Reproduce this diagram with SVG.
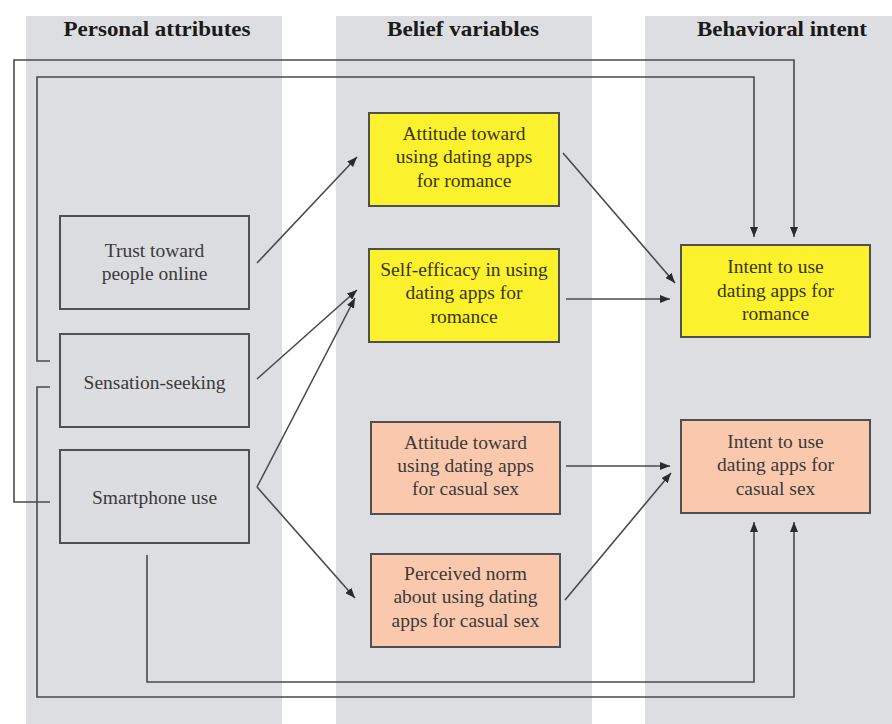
<svg xmlns="http://www.w3.org/2000/svg" width="892" height="724" viewBox="0 0 892 724">
<style>
.col{fill:#dddee1}
.hdr{font-family:"Liberation Serif","Times New Roman",serif;font-weight:bold;font-size:22px;fill:#1a1a1a;text-anchor:middle}
.box{stroke:#505050;stroke-width:2}
.g{fill:#dcdde0}
.y{fill:#fbf12c}
.s{fill:#fac9ad}
.t{font-family:"Liberation Serif","Times New Roman",serif;font-size:19.5px;text-anchor:middle;fill:#3a3a3a}
.ty{fill:#3a360c}
.c{fill:none;stroke:#4a4a4a;stroke-width:1.6}
.a{marker-end:url(#ah)}
</style>
<defs>
<marker id="ah" markerUnits="userSpaceOnUse" markerWidth="10" markerHeight="8" refX="10" refY="4" orient="auto">
<path d="M0,0 L10,4 L0,8 z" fill="#2a2a2a"/>
</marker>
</defs>
<rect width="892" height="724" fill="#ffffff"/>
<g id="columns">
<rect class="col" x="26" y="16" width="256" height="708"/>
<rect class="col" x="336" y="16" width="256" height="708"/>
<rect class="col" x="645" y="16" width="247" height="708"/>
<text class="hdr" x="157" y="36" textLength="187" lengthAdjust="spacingAndGlyphs">Personal attributes</text>
<text class="hdr" x="463" y="36" textLength="152" lengthAdjust="spacingAndGlyphs">Belief variables</text>
<text class="hdr" x="782" y="36" textLength="170" lengthAdjust="spacingAndGlyphs">Behavioral intent</text>
</g>
<g id="connectors">
<path class="c a" d="M257,263 L357,157"/>
<path class="c a" d="M257,379 L357,290"/>
<path class="c a" d="M257,487 L355,298"/>
<path class="c a" d="M257,487 L355,598"/>
<path class="c a" d="M563,153 L675,283"/>
<path class="c a" d="M566,299 L670,299"/>
<path class="c a" d="M566,466 L670,466"/>
<path class="c a" d="M565,600 L671,473"/>
<path class="c a" d="M50,502 L14,502 L14,60 L794,60 L794,237"/>
<path class="c a" d="M50,361 L37,361 L37,77 L754,77 L754,237"/>
<path class="c a" d="M50,387 L37,387 L37,697 L794,697 L794,522"/>
<path class="c a" d="M147,555 L147,682 L754,682 L754,522"/>
</g>
<g id="trust">
<rect class="box g" x="60" y="216" width="189" height="93"/>
<text class="t" x="154.5" y="257">Trust toward</text>
<text class="t" x="154.5" y="280">people online</text>
</g>
<g id="sensation">
<rect class="box g" x="60" y="334" width="189" height="93"/>
<text class="t" x="154.5" y="389">Sensation-seeking</text>
</g>
<g id="smartphone">
<rect class="box g" x="60" y="450" width="189" height="93"/>
<text class="t" x="154.5" y="504">Smartphone use</text>
</g>
<g id="attitude-romance">
<rect class="box y" x="369" y="113" width="190" height="93"/>
<text class="t ty" x="464" y="140">Attitude toward</text>
<text class="t ty" x="464" y="163">using dating apps</text>
<text class="t ty" x="464" y="187">for romance</text>
</g>
<g id="self-efficacy">
<rect class="box y" x="369" y="249" width="190" height="93"/>
<text class="t ty" x="464" y="276">Self-efficacy in using</text>
<text class="t ty" x="464" y="299">dating apps for</text>
<text class="t ty" x="464" y="323">romance</text>
</g>
<g id="attitude-casual">
<rect class="box s" x="371" y="422" width="189" height="92"/>
<text class="t" x="465.5" y="449">Attitude toward</text>
<text class="t" x="465.5" y="472">using dating apps</text>
<text class="t" x="465.5" y="495">for casual sex</text>
</g>
<g id="perceived-norm">
<rect class="box s" x="371" y="554" width="189" height="93"/>
<text class="t" x="465.5" y="580">Perceived norm</text>
<text class="t" x="465.5" y="603">about using dating</text>
<text class="t" x="465.5" y="627">apps for casual sex</text>
</g>
<g id="intent-romance">
<rect class="box y" x="681" y="245" width="189" height="92"/>
<text class="t ty" x="775.5" y="273">Intent to use</text>
<text class="t ty" x="775.5" y="297">dating apps for</text>
<text class="t ty" x="775.5" y="320">romance</text>
</g>
<g id="intent-casual">
<rect class="box s" x="681" y="420" width="189" height="93"/>
<text class="t" x="775.5" y="448">Intent to use</text>
<text class="t" x="775.5" y="471">dating apps for</text>
<text class="t" x="775.5" y="495">casual sex</text>
</g>
</svg>
